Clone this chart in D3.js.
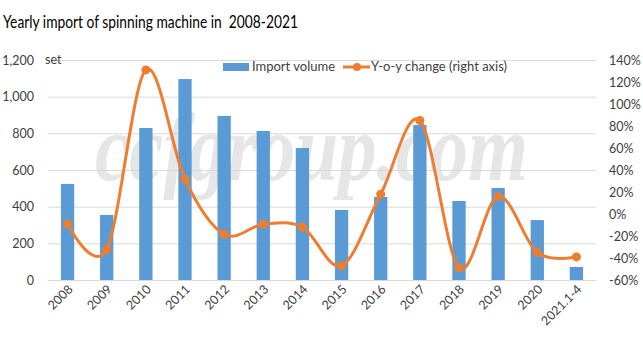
<!DOCTYPE html>
<html>
<head>
<meta charset="utf-8">
<script src="https://cdn.jsdelivr.net/npm/d3@7"></script>
<style>
html,body{margin:0;padding:0;background:#fff;}
svg{display:block;font-family:Lato, "Open Sans", sans-serif;}
</style>
</head>
<body>
<svg id="chart" width="643" height="341"></svg>
<script>
const categories = ["2008","2009","2010","2011","2012","2013","2014","2015","2016","2017","2018","2019","2020","2021.1-4"];
const importVolume = [524, 355, 829, 1096, 895, 813, 720, 382, 453, 845, 431, 502, 327, 71];
const yoyChange = [-9, -32, 131, 31.5, -18.5, -9.4, -12, -47, 18, 85, -49, 16, -35, -39];
const leftTicks = [0, 200, 400, 600, 800, 1000, 1200];
const rightTicks = [-60, -40, -20, 0, 20, 40, 60, 80, 100, 120, 140];

const svg = d3.select("#chart");
const m = {left: 48, right: 596, top: 60, bottom: 280};

const x = d3.scaleBand().domain(categories).range([m.left, m.right]).paddingInner(0.66).paddingOuter(0.33);
const yL = d3.scaleLinear().domain([0, 1200]).range([m.bottom, m.top]);
const yR = d3.scaleLinear().domain([-60, 140]).range([m.bottom, m.top]);

// watermark (scaled vertically so its natural width matches the reference)
const wm = svg.append("text")
  .attr("x", 0).attr("y", 0)
  .attr("transform", "translate(95,180) scale(1,1.22)")
  .attr("font-family", "'Liberation Serif', 'DejaVu Serif', serif")
  .attr("font-style", "italic")
  .attr("font-weight", "bold")
  .attr("font-size", 78)
  .attr("fill", "#e6e6e6")
  .text("ccfgroup.com");
const wmW = wm.node().getComputedTextLength();
wm.attr("transform", `translate(95,180) scale(${433 / wmW},1.22)`);

// gridlines
svg.append("g").selectAll("line").data(leftTicks).join("line")
  .attr("x1", m.left).attr("x2", m.right)
  .attr("y1", d => yL(d) + 0.5).attr("y2", d => yL(d) + 0.5)
  .attr("stroke", "#d9d9d9").attr("stroke-width", 1);

// title
svg.append("text")
  .attr("x", 3).attr("y", 28)
  .attr("font-size", 17)
  .attr("fill", "#000")
  .attr("xml:space", "preserve")
  .text("Yearly import of spinning machine in  2008-2021")
  .attr("textLength", 295).attr("lengthAdjust", "spacingAndGlyphs");

// left axis
const gL = svg.append("g").attr("transform", `translate(${m.left},0)`)
  .call(d3.axisLeft(yL).tickValues(leftTicks).tickSize(0).tickPadding(14).tickFormat(d3.format(",")));
gL.select(".domain").remove();
gL.selectAll("text").attr("font-size", 12.5).attr("fill", "#404040").attr("font-family", "Lato, sans-serif");

svg.append("text").attr("x", 45).attr("y", 64).attr("font-size", 12.5).attr("fill", "#404040").text("set");

// right axis
const gR = svg.append("g").attr("transform", `translate(${m.right},0)`)
  .call(d3.axisRight(yR).tickValues(rightTicks).tickSize(0).tickPadding(13).tickFormat(d => d + "%"));
gR.select(".domain").remove();
gR.selectAll("text").attr("font-size", 12.5).attr("fill", "#404040").attr("font-family", "Lato, sans-serif");

// bars
svg.append("g").selectAll("rect").data(importVolume).join("rect")
  .attr("x", (d, i) => x(categories[i]))
  .attr("width", x.bandwidth())
  .attr("y", d => yL(d))
  .attr("height", d => yL(0) - yL(d))
  .attr("fill", "#5b9bd5");

// x axis
const gX = svg.append("g").attr("transform", `translate(0,${m.bottom})`)
  .call(d3.axisBottom(x).tickSize(0).tickPadding(0));
gX.select(".domain").remove();
gX.selectAll("text")
  .attr("font-size", 12.5).attr("fill", "#404040").attr("font-family", "Lato, sans-serif")
  .attr("text-anchor", "end")
  .attr("dy", null)
  .attr("transform", "translate(6,10) rotate(-45)");

// line
const lineGen = d3.line()
  .x((d, i) => x(categories[i]) + x.bandwidth() / 2)
  .y(d => yR(d))
  .curve(d3.curveCatmullRom.alpha(0));
svg.append("path").datum(yoyChange)
  .attr("d", lineGen)
  .attr("fill", "none").attr("stroke", "#ed7d31").attr("stroke-width", 3).attr("stroke-linecap", "round");
svg.append("g").selectAll("circle").data(yoyChange).join("circle")
  .attr("cx", (d, i) => x(categories[i]) + x.bandwidth() / 2)
  .attr("cy", d => yR(d))
  .attr("r", 4.5).attr("fill", "#ed7d31");

// legend
const lg = svg.append("g");
lg.append("rect").attr("x", 223).attr("y", 63).attr("width", 26).attr("height", 8).attr("fill", "#5b9bd5");
lg.append("text").attr("x", 252).attr("y", 71).attr("font-size", 13).attr("fill", "#404040").text("Import volume")
  .attr("textLength", 83).attr("lengthAdjust", "spacing");
lg.append("line").attr("x1", 343).attr("x2", 370).attr("y1", 67).attr("y2", 67).attr("stroke", "#ed7d31").attr("stroke-width", 3);
lg.append("circle").attr("cx", 357).attr("cy", 67).attr("r", 4).attr("fill", "#ed7d31");
lg.append("text").attr("x", 371).attr("y", 71).attr("font-size", 13).attr("fill", "#404040").text("Y-o-y change (right axis)")
  .attr("textLength", 136).attr("lengthAdjust", "spacing");
</script>
</body>
</html>
